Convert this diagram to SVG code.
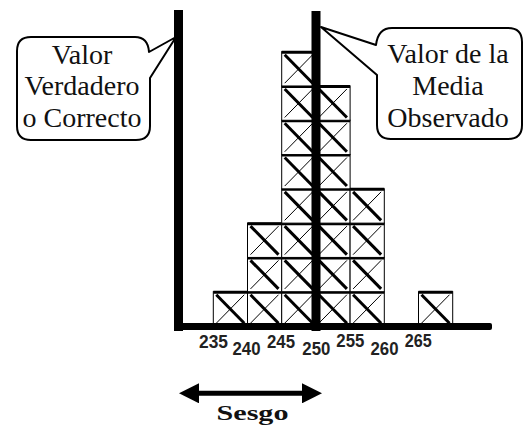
<svg xmlns="http://www.w3.org/2000/svg" xmlns:xlink="http://www.w3.org/1999/xlink" width="525" height="430" viewBox="0 0 525 430">
<style>
.callout{fill:#fff;stroke:#000;stroke-width:2;stroke-linejoin:round}
.lbl{font-family:"Liberation Sans",Arial,sans-serif;font-weight:bold;font-size:18px;fill:#222;text-anchor:middle}
.bar{fill:#000}
</style>
<defs>
<g id="box">
<rect x="0" y="0" width="34.2" height="34.3" fill="#fff" stroke="#000" stroke-width="1"/>
<line x1="0" y1="0.5" x2="34.2" y2="0.5" stroke="#000" stroke-width="3"/>
<line x1="3" y1="3" x2="31" y2="31.5" stroke="#000" stroke-width="3"/>
<line x1="31" y1="3" x2="3" y2="31.5" stroke="#000" stroke-width="1"/>
</g>
<marker id="ah" viewBox="0 0 10 10" refX="0" refY="5" markerWidth="4" markerHeight="4" orient="auto-start-reverse"><path d="M0,0 L10,5 L0,10 Z" fill="#000"/></marker>
</defs>

<g id="col-235">
<use xlink:href="#box" x="213.3" y="291.71"/>
</g>
<g id="col-240">
<use xlink:href="#box" x="247.5" y="291.71"/>
<use xlink:href="#box" x="247.5" y="257.42"/>
<use xlink:href="#box" x="247.5" y="223.13"/>
</g>
<g id="col-245">
<use xlink:href="#box" x="281.7" y="291.71"/>
<use xlink:href="#box" x="281.7" y="257.42"/>
<use xlink:href="#box" x="281.7" y="223.13"/>
<use xlink:href="#box" x="281.7" y="188.84"/>
<use xlink:href="#box" x="281.7" y="154.55"/>
<use xlink:href="#box" x="281.7" y="120.26"/>
<use xlink:href="#box" x="281.7" y="85.97"/>
<use xlink:href="#box" x="281.7" y="51.68"/>
</g>
<g id="col-255">
<use xlink:href="#box" x="315.9" y="291.71"/>
<use xlink:href="#box" x="315.9" y="257.42"/>
<use xlink:href="#box" x="315.9" y="223.13"/>
<use xlink:href="#box" x="315.9" y="188.84"/>
<use xlink:href="#box" x="315.9" y="154.55"/>
<use xlink:href="#box" x="315.9" y="120.26"/>
<use xlink:href="#box" x="315.9" y="85.97"/>
</g>
<g id="col-260">
<use xlink:href="#box" x="350.1" y="291.71"/>
<use xlink:href="#box" x="350.1" y="257.42"/>
<use xlink:href="#box" x="350.1" y="223.13"/>
<use xlink:href="#box" x="350.1" y="188.84"/>
</g>
<g id="col-265">
<use xlink:href="#box" x="418.5" y="291.71"/>
</g>

<g id="axes">
<rect class="bar" x="174" y="10" width="9" height="321"/>
<rect class="bar" x="311.5" y="11" width="9" height="320"/>
<rect class="bar" x="174" y="323" width="318" height="7" rx="2"/>
</g>

<g id="connectors">
<line x1="199" y1="393.3" x2="302" y2="393.3" stroke="#000" stroke-width="5" marker-start="url(#ah)" marker-end="url(#ah)"/>
</g>

<g id="callout-verdadero" font-family="'Liberation Serif','Times New Roman',serif" font-size="28" fill="#111" text-anchor="middle">
<path class="callout" d="M149,52 L176,37 L150,78 L150,126 Q150,140 136,140 L31,140 Q17,140 17,126 L17,51 Q17,37 31,37 L135,37 Q148,37 149,52 Z"/>
<text x="82" y="64">Valor</text>
<text x="82" y="95">Verdadero</text>
<text x="82" y="127">o Correcto</text>
</g>

<g id="callout-media" font-family="'Liberation Serif','Times New Roman',serif" font-size="28" fill="#111" text-anchor="middle">
<path class="callout" d="M376,45 L321,27 L377,75 L377,125 Q377,139 391,139 L508,139 Q522,139 522,125 L522,42 Q522,28 508,28 L392,28 Q378,28 376,45 Z"/>
<text x="448" y="63">Valor de la</text>
<text x="448" y="95">Media</text>
<text x="448" y="127">Observado</text>
</g>

<g id="labels">
<text class="lbl" x="213.5" y="348" textLength="29" lengthAdjust="spacingAndGlyphs">235</text>
<text class="lbl" x="246.5" y="355" textLength="28" lengthAdjust="spacingAndGlyphs">240</text>
<text class="lbl" x="281" y="348" textLength="28" lengthAdjust="spacingAndGlyphs">245</text>
<text class="lbl" x="316.3" y="355" textLength="28" lengthAdjust="spacingAndGlyphs">250</text>
<text class="lbl" x="350.3" y="347" textLength="28" lengthAdjust="spacingAndGlyphs">255</text>
<text class="lbl" x="384.5" y="355" textLength="28" lengthAdjust="spacingAndGlyphs">260</text>
<text class="lbl" x="418.3" y="347" textLength="27" lengthAdjust="spacingAndGlyphs">265</text>
</g>

<g id="sesgo">
<text x="252.5" y="420" font-family="'Liberation Serif','Times New Roman',serif" font-weight="bold" font-size="22" fill="#111" text-anchor="middle" textLength="72" lengthAdjust="spacingAndGlyphs">Sesgo</text>
</g>
</svg>
